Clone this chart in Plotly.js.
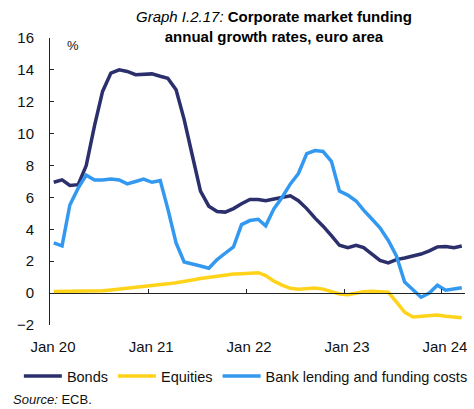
<!DOCTYPE html>
<html>
<head>
<meta charset="utf-8">
<script src="https://cdn.plot.ly/plotly-3.0.1.min.js"></script>
<style>html,body{margin:0;padding:0;background:#fff;}#chart{width:474px;height:409px;}</style>
</head>
<body>
<div id="chart"></div>
<script>
// Monthly observations, Jan 2020 - Mar 2024 (plotted mid-month)
var startYear = 2020, startMonth = 1, nMonths = 51;
var bonds = [6.95, 7.1, 6.75, 6.8, 8.0, 10.5, 12.65, 13.8, 14.0, 13.9, 13.7, 13.7,
             13.75, 13.6, 13.48, 12.75, 10.9, 8.6, 6.4, 5.45, 5.12, 5.08, 5.3, 5.6,
             5.87, 5.87, 5.8, 5.9, 6.0, 6.1, 5.8, 5.3, 4.7, 4.2, 3.6, 3.0,
             2.85, 3.0, 2.85, 2.45, 2.05, 1.9, 2.1, 2.2, 2.3, 2.45, 2.65, 2.9,
             2.92, 2.85, 2.95];
var equities = [0.1, 0.1, 0.1, 0.1, 0.1, 0.12, 0.15, 0.2, 0.25, 0.3, 0.35, 0.4,
                0.45, 0.5, 0.58, 0.65, 0.72, 0.82, 0.92, 1.0, 1.08, 1.15, 1.2, 1.22,
                1.25, 1.28, 1.1, 0.75, 0.5, 0.3, 0.25, 0.3, 0.32, 0.25, 0.12, -0.05,
                -0.1, 0.0, 0.08, 0.12, 0.1, 0.05, -0.55, -1.2, -1.5, -1.45, -1.4, -1.38,
                -1.45, -1.5, -1.55];
var bankLending = [3.15, 2.96, 5.53, 6.58, 7.4, 7.1, 7.1, 7.16, 7.1, 6.85, 7.0, 7.15,
                   6.95, 7.06, 5.3, 3.15, 1.95, 1.85, 1.7, 1.56, 2.1, 2.5, 2.9, 4.3,
                   4.55, 4.63, 4.22, 5.3, 6.0, 6.85, 7.5, 8.75, 8.94, 8.88, 8.27, 6.4,
                   6.15, 5.78, 5.2, 4.65, 4.1, 3.3, 2.35, 0.7, 0.2, -0.26, 0.0, 0.5,
                   0.18, 0.27, 0.33];
var seriesNames = ["Bonds", "Equities", "Bank lending and funding costs"];
var tickValues = ["2020-01-01", "2021-01-01", "2022-01-01", "2023-01-01", "2024-01-01"];
var tickLabels = ["Jan 20", "Jan 21", "Jan 22", "Jan 23", "Jan 24"];

var dates = [];
for (var i = 0; i < nMonths; i++) {
  var mo = startMonth - 1 + i;
  var y = startYear + Math.floor(mo / 12);
  var m = (mo % 12) + 1;
  dates.push(y + "-" + (m < 10 ? "0" + m : m) + "-15");
}

var FONT = "Liberation Sans, Arial, sans-serif";
var colors = ["#2b2f6b", "#ffd31a", "#3399f0"];
var series = [bonds, equities, bankLending];
var traces = series.map(function (s, k) {
  return {
    x: dates, y: s, type: "scatter", mode: "lines", name: seriesNames[k],
    line: {color: colors[k], width: 3.5}
  };
});

var layout = {
  width: 474, height: 409,
  margin: {l: 50, r: 9, t: 38, b: 84, autoexpand: false},
  paper_bgcolor: "#fff", plot_bgcolor: "#fff",
  font: {family: FONT, size: 14, color: "#111"},
  showlegend: true,
  legend: {orientation: "h", x: -0.075, xanchor: "left", y: -0.178, yanchor: "middle",
           font: {family: FONT, size: 14.5, color: "#111"}, traceorder: "normal",
           itemwidth: 38, tracegroupgap: 0},
  title: {
    text: "<i>Graph I.2.17:</i> <b>Corporate market funding</b><br><b>annual growth rates, euro area</b>",
    x: 0.578, xanchor: "center", y: 0.945, yanchor: "top",
    font: {family: FONT, size: 15, color: "#000"}
  },
  xaxis: {
    type: "date", range: ["2020-01-01", "2024-03-27"],
    tickvals: tickValues, ticktext: tickLabels,
    anchor: "free", position: 2 / 18,
    showline: true, linecolor: "#222", linewidth: 1,
    ticks: "inside", ticklen: 4, tickcolor: "#222", tickwidth: 1,
    ticklabelstandoff: 40, ticklabelshift: 3,
    showgrid: false, zeroline: false, automargin: false,
    tickfont: {family: FONT, size: 15, color: "#111"}
  },
  yaxis: {
    range: [-2, 16], dtick: 2, tick0: 0,
    showline: true, linecolor: "#222", linewidth: 1,
    ticks: "inside", ticklen: 4, tickcolor: "#222", tickwidth: 1,
    ticklabelstandoff: 12,
    showgrid: false, zeroline: false, automargin: false,
    tickfont: {family: FONT, size: 15, color: "#111"}
  },
  annotations: [
    {text: "%", xref: "paper", yref: "paper", x: 0.055, y: 0.975, xanchor: "center", yanchor: "middle",
     showarrow: false, font: {family: FONT, size: 13, color: "#111"}},
    {text: "<i>Source:</i> ECB.", xref: "paper", yref: "paper", x: -0.093, y: -0.258, xanchor: "left", yanchor: "middle",
     showarrow: false, font: {family: FONT, size: 13, color: "#111"}}
  ]
};

Plotly.newPlot("chart", traces, layout, {displayModeBar: false, staticPlot: true});
</script>
</body>
</html>
